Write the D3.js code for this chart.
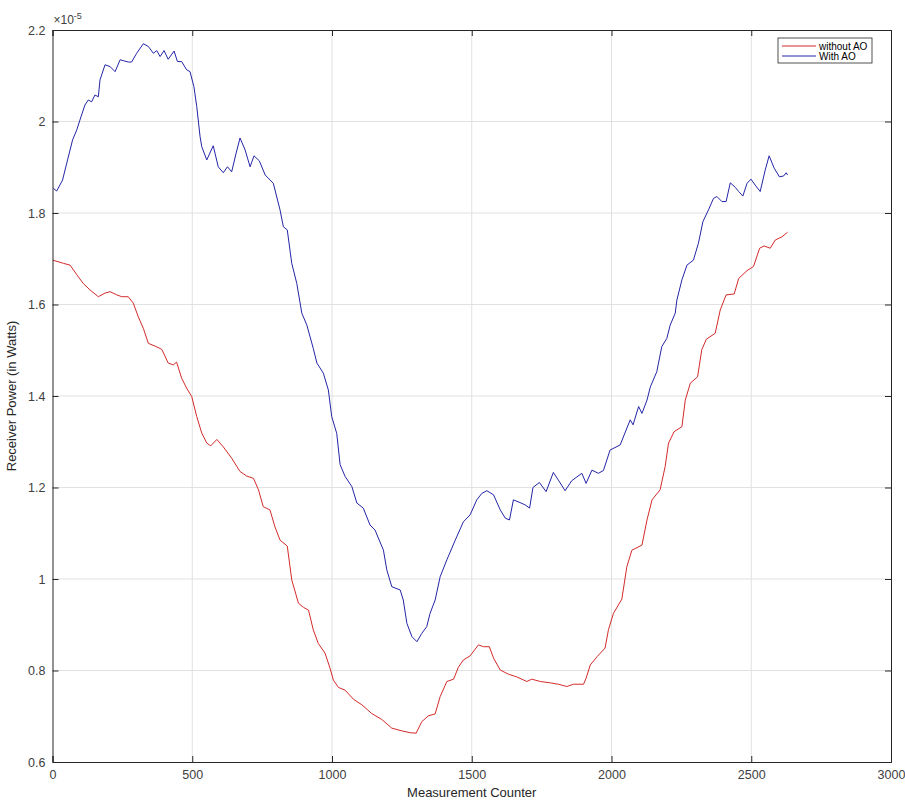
<!DOCTYPE html>
<html>
<head>
<meta charset="utf-8">
<script src="https://cdn.jsdelivr.net/npm/d3@7"></script>
<style>
  body { margin: 0; background: #fff; }
  text { font-family: "Liberation Sans", Arial, sans-serif; }
</style>
</head>
<body>
<script>
// Data (power in units of 1e-5 W)
const xWith = [3,15,36,51,72,87,98,116,128,140,152,164,170,188,206,224,242,253,271,283,301,325,343,361,373,385,399,414,435,447,462,480,492,506,516,528,534,552,575,593,611,626,641,657,671,689,707,721,740,761,790,814,826,840,856,874,892,910,933,946,969,987,999,1017,1029,1047,1071,1089,1112,1136,1154,1184,1196,1214,1244,1255,1268,1286,1304,1321,1339,1351,1369,1387,1411,1441,1470,1494,1518,1536,1554,1578,1602,1620,1635,1649,1673,1691,1707,1719,1742,1766,1792,1810,1834,1858,1894,1909,1930,1953,1971,1995,2031,2067,2077,2097,2109,2127,2139,2162,2180,2198,2210,2228,2234,2252,2270,2293,2311,2327,2347,2365,2377,2395,2410,2425,2443,2455,2470,2485,2499,2514,2532,2550,2564,2582,2601,2616,2625,2630];
const yWith = [1.854,1.848,1.872,1.909,1.960,1.982,2.003,2.036,2.047,2.043,2.058,2.054,2.091,2.124,2.120,2.109,2.135,2.133,2.130,2.130,2.149,2.170,2.164,2.149,2.155,2.142,2.155,2.136,2.154,2.131,2.131,2.113,2.109,2.076,2.033,1.967,1.945,1.916,1.947,1.901,1.888,1.901,1.890,1.931,1.964,1.938,1.901,1.925,1.914,1.883,1.865,1.807,1.770,1.763,1.690,1.646,1.581,1.555,1.504,1.472,1.450,1.413,1.355,1.318,1.250,1.224,1.202,1.166,1.155,1.118,1.107,1.063,1.020,0.983,0.976,0.954,0.903,0.874,0.863,0.881,0.896,0.925,0.954,1.005,1.042,1.085,1.125,1.140,1.173,1.187,1.193,1.184,1.151,1.133,1.129,1.173,1.167,1.162,1.155,1.200,1.211,1.191,1.233,1.216,1.193,1.215,1.231,1.209,1.238,1.231,1.237,1.282,1.293,1.348,1.337,1.377,1.362,1.391,1.420,1.453,1.508,1.526,1.555,1.581,1.610,1.654,1.686,1.697,1.734,1.781,1.807,1.832,1.836,1.825,1.825,1.866,1.856,1.847,1.837,1.865,1.874,1.861,1.847,1.894,1.925,1.898,1.879,1.881,1.888,1.883];

const xWithout = [1,39,63,87,110,134,164,188,206,230,248,271,289,307,325,343,367,391,414,432,444,462,480,498,516,534,552,566,588,611,641,671,695,719,737,754,778,796,814,840,856,880,898,916,933,951,975,993,1005,1023,1047,1077,1107,1142,1178,1214,1250,1280,1301,1321,1345,1369,1387,1411,1435,1452,1470,1494,1524,1542,1563,1578,1602,1631,1661,1697,1715,1745,1781,1810,1840,1864,1900,1909,1924,1948,1977,1989,2007,2037,2055,2073,2109,2127,2145,2174,2192,2204,2224,2252,2264,2282,2308,2323,2339,2371,2389,2410,2439,2455,2485,2508,2530,2546,2568,2586,2610,2630];
const yWithout = [1.697,1.690,1.686,1.665,1.646,1.632,1.617,1.625,1.628,1.621,1.617,1.617,1.603,1.573,1.548,1.515,1.509,1.502,1.472,1.468,1.474,1.439,1.417,1.399,1.355,1.319,1.297,1.291,1.305,1.289,1.264,1.235,1.225,1.220,1.195,1.158,1.151,1.114,1.085,1.072,0.998,0.947,0.938,0.932,0.889,0.859,0.838,0.805,0.779,0.763,0.757,0.737,0.725,0.706,0.693,0.674,0.668,0.664,0.663,0.688,0.701,0.705,0.743,0.776,0.781,0.807,0.823,0.832,0.856,0.852,0.852,0.827,0.801,0.792,0.786,0.776,0.781,0.776,0.773,0.770,0.765,0.770,0.770,0.783,0.812,0.830,0.849,0.889,0.925,0.956,1.027,1.063,1.074,1.129,1.173,1.195,1.246,1.297,1.322,1.333,1.391,1.428,1.442,1.501,1.524,1.537,1.588,1.621,1.623,1.657,1.674,1.683,1.723,1.728,1.723,1.741,1.748,1.758];

const xTicks = [0,500,1000,1500,2000,2500,3000];
const yTicks = [0.6,0.8,1,1.2,1.4,1.6,1.8,2,2.2];
const seriesNames = ["without AO", "With AO"];
const seriesColors = ["#d42a2a", "#2424a8"];

const width = 905, height = 801;
const margin = { top: 30, right: 14, bottom: 39, left: 52.5 };
const plotW = width - margin.left - margin.right;
const plotH = height - margin.top - margin.bottom;

const svg = d3.select("body").append("svg")
  .attr("width", width)
  .attr("height", height);

const g = svg.append("g")
  .attr("transform", `translate(${margin.left},${margin.top})`);

const x = d3.scaleLinear().domain([0, 3000]).range([0, plotW]);
const y = d3.scaleLinear().domain([0.6, 2.2]).range([plotH, 0]);

// grid
g.append("g").selectAll("line")
  .data(xTicks.slice(1, -1))
  .enter().append("line")
  .attr("x1", d => x(d)).attr("x2", d => x(d))
  .attr("y1", 0).attr("y2", plotH)
  .attr("stroke", "#e1e1e1");

g.append("g").selectAll("line")
  .data(yTicks.slice(1, -1))
  .enter().append("line")
  .attr("x1", 0).attr("x2", plotW)
  .attr("y1", d => y(d)).attr("y2", d => y(d))
  .attr("stroke", "#e1e1e1");

// lines
const line = d3.line().x(d => x(d[0])).y(d => y(d[1]));
const series = [
  d3.zip(xWithout, yWithout),
  d3.zip(xWith, yWith)
];
series.forEach((s, i) => {
  g.append("path")
    .datum(s)
    .attr("fill", "none")
    .attr("stroke", seriesColors[i])
    .attr("stroke-width", 1)
    .attr("d", line);
});

// axes, ticks pointing inwards like MATLAB
const tickColor = "#262626";
const xAxis = d3.axisBottom(x).tickValues(xTicks).tickSize(-6).tickPadding(8).tickFormat(d3.format("d"));
const yAxis = d3.axisLeft(y).tickValues(yTicks).tickSize(-6).tickPadding(7).tickFormat(d => d3.format("~g")(d));

const xg = g.append("g").attr("transform", `translate(0,${plotH})`).call(xAxis);
const yg = g.append("g").call(yAxis);
g.append("g").call(d3.axisTop(x).tickValues(xTicks).tickSize(-6).tickFormat(""));
g.append("g").attr("transform", `translate(${plotW},0)`).call(d3.axisRight(y).tickValues(yTicks).tickSize(-6).tickFormat(""));

g.selectAll(".domain").attr("stroke", tickColor);
g.selectAll(".tick line").attr("stroke", tickColor);
[xg, yg].forEach(a => a.selectAll("text")
  .attr("fill", "#404040")
  .style("font-size", "12.5px")
  .style("font-family", "'Liberation Sans', Arial, sans-serif"));

// exponent label
const expo = g.append("text")
  .attr("x", 1)
  .attr("y", -6)
  .attr("fill", "#404040")
  .style("font-size", "12px");
expo.append("tspan").text("\u00d710");
expo.append("tspan").attr("dy", -5).style("font-size", "9px").text("-5");

// axis labels
g.append("text")
  .attr("x", plotW / 2)
  .attr("y", plotH + 35)
  .attr("text-anchor", "middle")
  .attr("fill", "#262626")
  .style("font-size", "13px")
  .text("Measurement Counter");

g.append("text")
  .attr("transform", "rotate(-90)")
  .attr("x", -plotH / 2)
  .attr("y", -37)
  .attr("text-anchor", "middle")
  .attr("fill", "#262626")
  .style("font-size", "13px")
  .text("Receiver Power (in Watts)");

// legend
const legend = svg.append("g").attr("transform", "translate(778,38)");
legend.append("rect")
  .attr("width", 94).attr("height", 25)
  .attr("fill", "#fff").attr("stroke", tickColor).attr("stroke-width", 0.8);
seriesNames.forEach((name, i) => {
  const ly = 8 + i * 10;
  legend.append("line")
    .attr("x1", 4).attr("x2", 38)
    .attr("y1", ly).attr("y2", ly)
    .attr("stroke", seriesColors[i]);
  legend.append("text")
    .attr("x", 41).attr("y", ly)
    .attr("dy", "0.35em")
    .attr("fill", "#000")
    .style("font-size", "10px")
    .text(name);
});
</script>
</body>
</html>
